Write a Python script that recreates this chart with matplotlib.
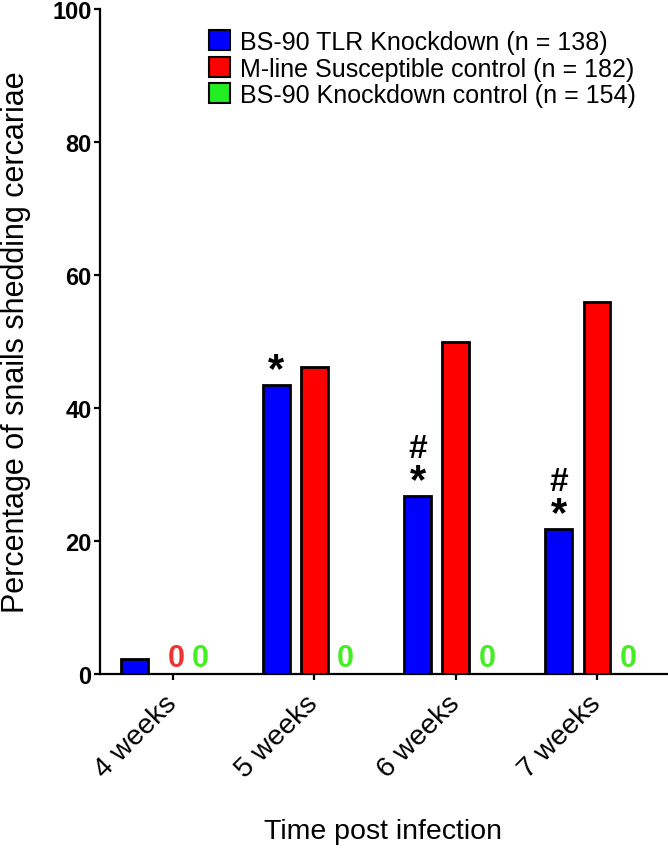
import numpy as np
import matplotlib
matplotlib.use("Agg")
import matplotlib.pyplot as plt
from matplotlib.patches import Patch

plt.rcParams["font.family"] = ["Liberation Sans", "DejaVu Sans"]

weeks = ["4 weeks", "5 weeks", "6 weeks", "7 weeks"]
tlr_knockdown = [2.2, 43.5, 26.8, 21.8]
mline_control = [0.0, 46.2, 50.0, 55.9]
knockdown_control = [0.0, 0.0, 0.0, 0.0]

series_labels = [
    "BS-90 TLR Knockdown (n = 138)",
    "M-line Susceptible control (n = 182)",
    "BS-90 Knockdown control (n = 154)",
]
# significance marks above the TLR knockdown bars
star_weeks = [1, 2, 3]
hash_weeks = [2, 3]

BLUE = "#0000ff"
RED = "#ff0000"
GREEN = "#22ee22"

fig = plt.figure(figsize=(6.68, 8.53), dpi=100)
ax = fig.add_axes([100 / 668, 1 - 675 / 853, 567 / 668, 665 / 853])

x = np.arange(len(weeks))
offset = 0.27
width = 0.19
bar_kw = dict(width=width, edgecolor="black", linewidth=2.0, zorder=3)

for i in range(len(weeks)):
    if tlr_knockdown[i] > 0:
        ax.bar(x[i] - offset, tlr_knockdown[i], color=BLUE, **bar_kw)
    if mline_control[i] > 0:
        ax.bar(x[i], mline_control[i], color=RED, **bar_kw)
    else:
        ax.text(x[i] + 0.02, 1.2, "0", color="#ee3333", fontsize=22,
                fontweight="bold", ha="center", va="baseline")
    if knockdown_control[i] > 0:
        ax.bar(x[i] + offset, knockdown_control[i], color=GREEN, **bar_kw)
    else:
        gx = x[i] + (0.19 if i == 0 else 0.22)
        ax.text(gx, 1.2, "0", color="#44ee22", fontsize=22,
                fontweight="bold", ha="center", va="baseline")

for i in star_weeks:
    ax.text(x[i] - offset, tlr_knockdown[i] + 0.6, "*", fontsize=30,
            fontweight="bold", ha="center", va="baseline")
for i in hash_weeks:
    ax.text(x[i] - offset, tlr_knockdown[i] + 5.9, "#", fontsize=24,
            fontweight="bold", ha="center", va="baseline")

ax.set_xlim(-0.517, 3.495)
ax.set_ylim(0, 100)
ax.set_yticks([0, 20, 40, 60, 80, 100])
ax.set_xticks(x)
ax.set_xticklabels(weeks, rotation=45, ha="right", va="center",
                   rotation_mode="anchor", fontsize=20.5)
for lab in ax.get_yticklabels():
    lab.set_fontweight("bold")
    lab.set_fontsize(17)

for side in ["top", "right"]:
    ax.spines[side].set_visible(False)
for side in ["left", "bottom"]:
    ax.spines[side].set_linewidth(1.6)
ax.tick_params(axis="both", length=4, width=1.6, pad=2)
ax.tick_params(axis="x", pad=14)

ax.set_ylabel("Percentage of snails shedding cercariae", fontsize=22, labelpad=15)
ax.set_xlabel("Time post infection", fontsize=20.5, labelpad=26)

handles = [Patch(facecolor=c, edgecolor="black", linewidth=1.5)
           for c in (BLUE, RED, GREEN)]
ax.legend(handles, series_labels, loc="upper left",
          bbox_to_anchor=(209 / 668, 1 - 31 / 853), bbox_transform=fig.transFigure,
          frameon=False, fontsize=18, handlelength=0.85, handleheight=0.85,
          handletextpad=0.4, labelspacing=0.1, borderaxespad=0, borderpad=0)

fig.savefig("out.png", dpi=100)
